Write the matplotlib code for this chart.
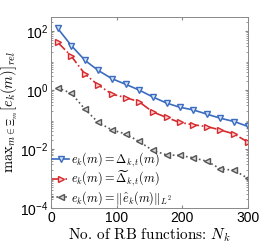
import numpy as np
import matplotlib
matplotlib.use("Agg")
import matplotlib.pyplot as plt

plt.rcParams['mathtext.fontset'] = 'cm'
plt.rcParams['font.family'] = ['Liberation Sans', 'DejaVu Sans']

# number of RB functions at each marker
n_rb = [10, 31, 52, 72, 93, 114, 134, 155, 176, 196, 217, 238, 258, 279, 300]

# error estimates
delta = [125, 32, 10, 4.6, 2.4, 1.55, 1.0, 0.58, 0.36, 0.26, 0.21, 0.15, 0.11, 0.085, 0.058]
delta_tilde = [42, 14, 3.4, 1.47, 0.72, 0.55, 0.40, 0.18, 0.117, 0.079, 0.066, 0.057, 0.044, 0.032, 0.017]
true_err = [1.19, 0.77, 0.22, 0.079, 0.044, 0.032, 0.018, 0.0089, 0.0063, 0.006, 0.005, 0.0038, 0.0021, 0.0019, 0.001]

labels = [r'$e_k(m) = \Delta_{k,t}(m)$',
          r'$e_k(m) = \widetilde{\Delta}_{k,t}(m)$',
          r'$e_k(m) = \|\hat{e}_k(m)\|_{L^2}$']

fig = plt.figure(figsize=(2.74, 2.49), dpi=100)
ax = fig.add_axes([0.186, 0.165, 0.719, 0.767])

ax.semilogy(n_rb, delta, '-', color='#3a6cc0', lw=1.2, marker='v', ms=5,
            mfc='#d5e0f3', mec='#3a6cc0', mew=1.0, label=labels[0])
ax.semilogy(n_rb, delta_tilde, '-.', color='#d62a2e', lw=1.2, marker='>', ms=5,
            mfc='#f6d0d0', mec='#d62a2e', mew=1.0, label=labels[1])
ax.semilogy(n_rb, true_err, ':', color='#555555', lw=1.2, marker='<', ms=5,
            mfc='#d5d5d5', mec='#555555', mew=1.0, label=labels[2])

ax.set_xlim(0, 300)
ax.set_ylim(1e-4, 3e2)
ax.set_xticks([0, 100, 200, 300])
ax.set_yticks([1e-4, 1e-2, 1e0, 1e2])
ax.tick_params(direction='in', which='both', top=True, right=True,
               labelsize=10, length=2.5, color='#888888', pad=2)
ax.tick_params(which='minor', length=1.5)
for s in ax.spines.values():
    s.set_color('#888888')
    s.set_linewidth(0.7)

ax.set_xlabel(r'No. of RB functions: $N_k$', fontsize=11, labelpad=1,
              family='cmr10')
ax.set_ylabel(r'$\mathrm{max}_{m\in\Xi_m}\left[e_k(m)\right]_{rel}$', fontsize=10.5, labelpad=0)

ax.legend(loc='lower left', frameon=False, fontsize=8.8, handlelength=1.4,
          handletextpad=0.1, borderaxespad=0.0, labelspacing=0.0,
          borderpad=0.1, bbox_to_anchor=(0.0, 0.0))

fig.savefig('out.png', dpi=100)
